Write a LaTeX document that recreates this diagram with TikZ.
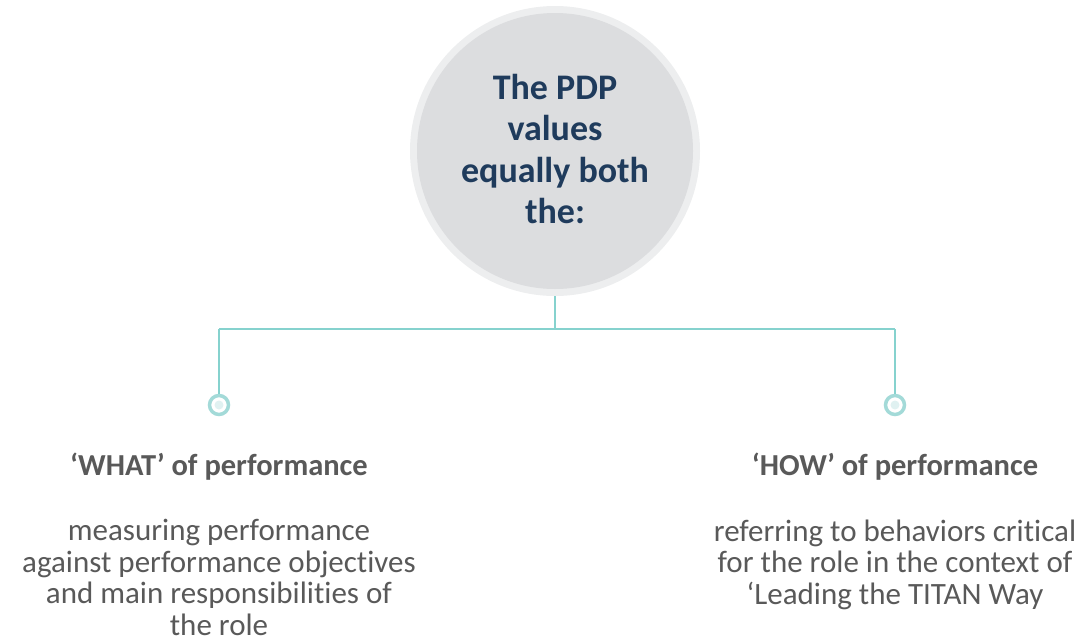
\documentclass[tikz,border=0pt]{standalone}
\usepackage{fontspec}
\setmainfont{Carlito}[Ligatures={NoCommon}]
\definecolor{navy}{HTML}{1F3B5C}
\definecolor{txtgray}{HTML}{595959}
\definecolor{ringgray}{HTML}{EDEEEF}
\definecolor{fillgray}{HTML}{DCDDDF}
\definecolor{teal}{HTML}{86D2CE}
\definecolor{tealring}{HTML}{A3DAD8}
\definecolor{tealdot}{HTML}{E0F1F1}
\tikzset{
  conn/.style={draw=teal, line width=1.6pt},
  endring/.style={circle, draw=tealring, line width=3.5pt, fill=white, minimum size=19pt, inner sep=0pt},
  title/.style={font=\bfseries\fontsize{30.5}{36}\selectfont, text=txtgray, align=center},
  body/.style={font=\fontsize{31}{31.5}\selectfont, text=txtgray, align=center},
}
\begin{document}
\begin{tikzpicture}[x=1pt,y=-1pt]
\useasboundingbox (0,0) rectangle (1084,643);
\fill[ringgray] (555,151) circle (145);
\node[circle, fill=fillgray, minimum size=276pt, inner sep=0pt] (hub) at (555,151) {};
\node[font=\bfseries\fontsize{36}{41.5}\selectfont, text=navy, align=center] (hubtxt) at (555,149) {The PDP\\values\\equally both\\the:};
\coordinate (top) at (555,329);
\coordinate (lc) at (219,329);
\coordinate (rc) at (895,329);
\node[endring] (lr) at (219,405) {};
\node[endring] (rr) at (895,405) {};
\fill[tealdot] (lr.center) circle (4.5);
\fill[tealdot] (rr.center) circle (4.5);
\draw[conn] (555,296) -- (top);
\draw[conn] (lc) -- (rc);
\draw[conn] (lc) -- (lr.north);
\draw[conn] (rc) -- (rr.north);
\node[title] (wt) at (219,467) {‘WHAT’ of performance};
\node[title] (ht) at (895,467) {‘HOW’ of performance};
\node[body, anchor=north] (wb) at (219,516) {measuring performance\\against performance objectives\\and main responsibilities of\\the role};
\node[body, anchor=north] (hb) at (895,516) {referring to behaviors critical\\for the role in the context of\\‘Leading the TITAN Way};
\end{tikzpicture}
\end{document}
